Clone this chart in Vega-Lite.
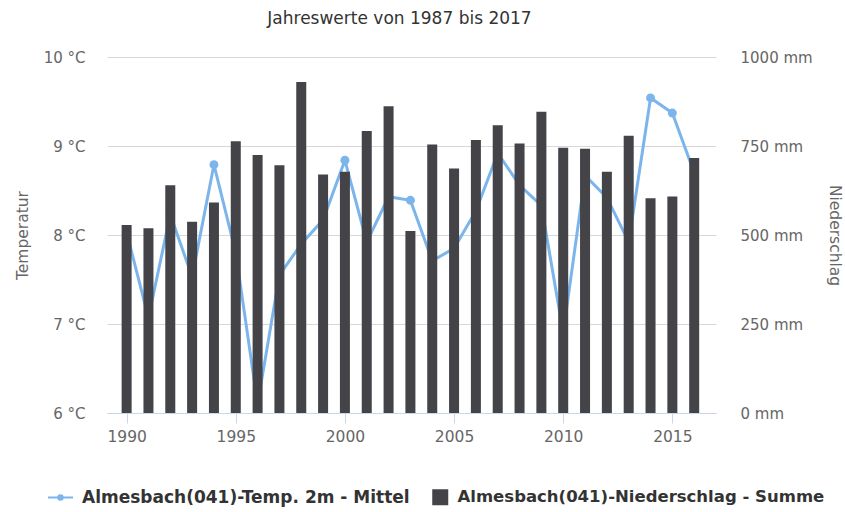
{
  "$schema": "https://vega.github.io/schema/vega-lite/v6.json",
  "width": 609,
  "height": 356,
  "autosize": "none",
  "padding": {"left": 107, "top": 57, "right": 129, "bottom": 99},
  "background": "white",
  "config": {
    "font": "DejaVu Sans",
    "view": {"stroke": null},
    "legend": {"padding": 0}
  },
  "title": {
    "text": "Jahreswerte von 1987 bis 2017",
    "fontSize": 17,
    "fontWeight": "normal",
    "color": "#333333",
    "anchor": "middle",
    "dx": -12,
    "offset": 22,
    "font": "DejaVu Sans"
  },
  "data": {
    "values": [
      {"Jahr": 1990, "Temperatur": 8.03, "Niederschlag": 528},
      {"Jahr": 1991, "Temperatur": 7.07, "Niederschlag": 519},
      {"Jahr": 1992, "Temperatur": 8.23, "Niederschlag": 640},
      {"Jahr": 1993, "Temperatur": 7.53, "Niederschlag": 537},
      {"Jahr": 1994, "Temperatur": 8.79, "Niederschlag": 591},
      {"Jahr": 1995, "Temperatur": 7.8, "Niederschlag": 763},
      {"Jahr": 1996, "Temperatur": 6.1, "Niederschlag": 725},
      {"Jahr": 1997, "Temperatur": 7.55, "Niederschlag": 696},
      {"Jahr": 1998, "Temperatur": 7.9, "Niederschlag": 930},
      {"Jahr": 1999, "Temperatur": 8.17, "Niederschlag": 670},
      {"Jahr": 2000, "Temperatur": 8.84, "Niederschlag": 678},
      {"Jahr": 2001, "Temperatur": 7.92, "Niederschlag": 792},
      {"Jahr": 2002, "Temperatur": 8.43, "Niederschlag": 862},
      {"Jahr": 2003, "Temperatur": 8.39, "Niederschlag": 511},
      {"Jahr": 2004, "Temperatur": 7.71, "Niederschlag": 754},
      {"Jahr": 2005, "Temperatur": 7.85, "Niederschlag": 687},
      {"Jahr": 2006, "Temperatur": 8.27, "Niederschlag": 767},
      {"Jahr": 2007, "Temperatur": 8.92, "Niederschlag": 808},
      {"Jahr": 2008, "Temperatur": 8.56, "Niederschlag": 757},
      {"Jahr": 2009, "Temperatur": 8.33, "Niederschlag": 846},
      {"Jahr": 2010, "Temperatur": 6.9, "Niederschlag": 745},
      {"Jahr": 2011, "Temperatur": 8.67, "Niederschlag": 742},
      {"Jahr": 2012, "Temperatur": 8.42, "Niederschlag": 678},
      {"Jahr": 2013, "Temperatur": 7.92, "Niederschlag": 779},
      {"Jahr": 2014, "Temperatur": 9.54, "Niederschlag": 603},
      {"Jahr": 2015, "Temperatur": 9.37, "Niederschlag": 608},
      {"Jahr": 2016, "Temperatur": 8.7, "Niederschlag": 716}
    ]
  },
  "encoding": {
    "x": {
      "field": "Jahr",
      "type": "quantitative",
      "scale": {"domain": [1989.33, 2016.77], "nice": false, "zero": false},
      "axis": {
        "title": null,
        "values": [1990, 1995, 2000, 2005, 2010, 2015],
        "format": "d",
        "grid": false,
        "domainColor": "#ccd6eb",
        "tickColor": "#ccd6eb",
        "tickSize": 10,
        "labelPadding": 6,
        "labelFontSize": 15.5,
        "labelColor": "#666666",
        "labelFont": "DejaVu Sans"
      }
    }
  },
  "layer": [
    {
      "mark": {
        "type": "line",
        "strokeWidth": 3,
        "point": {"filled": true, "size": 80}
      },
      "encoding": {
        "y": {
          "field": "Temperatur",
          "type": "quantitative",
          "scale": {"domain": [6, 10], "nice": false, "zero": false},
          "axis": {
            "orient": "left",
            "title": "Temperatur",
            "values": [6, 7, 8, 9, 10],
            "labelExpr": "datum.value + ' °C'",
            "grid": true,
            "gridColor": "#d8d8d8",
            "domain": false,
            "ticks": false,
            "tickSize": 0,
            "labelPadding": 22,
            "labelFontSize": 15,
            "labelColor": "#666666",
            "titleFontSize": 15.5,
            "titleFontWeight": "normal",
            "titleColor": "#666666",
            "titlePadding": 13
          }
        },
        "color": {
          "datum": "Almesbach(041)-Temp. 2m - Mittel",
          "scale": {"range": ["#7cb5ec"]},
          "legend": {
            "title": null,
            "orient": "none",
            "legendX": -60,
            "legendY": 427,
            "symbolType": "M-1,0L1,0M0.18,0A0.18,0.18,0,1,1,-0.18,0A0.18,0.18,0,1,1,0.18,0Z",
            "symbolSize": 625,
            "symbolFillColor": "#7cb5ec",
            "symbolStrokeColor": "#7cb5ec",
            "symbolStrokeWidth": 2,
            "labelFontSize": 17,
            "labelFontWeight": "bold",
            "labelColor": "#333333",
            "labelOffset": 8,
            "labelLimit": 0
          }
        }
      }
    },
    {
      "mark": {"type": "bar", "size": 10},
      "encoding": {
        "y": {
          "field": "Niederschlag",
          "type": "quantitative",
          "scale": {"domain": [0, 1000], "nice": false},
          "axis": {
            "orient": "right",
            "title": "Niederschlag",
            "values": [0, 250, 500, 750, 1000],
            "labelExpr": "datum.value + ' mm'",
            "grid": false,
            "domain": false,
            "ticks": false,
            "tickSize": 0,
            "labelPadding": 24,
            "labelFontSize": 15,
            "labelColor": "#666666",
            "titleFontSize": 15.5,
            "titleFontWeight": "normal",
            "titleColor": "#666666",
            "titlePadding": 14
          }
        },
        "color": {
          "datum": "Almesbach(041)-Niederschlag - Summe",
          "scale": {"range": ["#434348"]},
          "legend": {
            "title": null,
            "orient": "none",
            "legendX": 325,
            "legendY": 432,
            "symbolType": "square",
            "symbolSize": 256,
            "symbolStrokeWidth": 0,
            "labelFontSize": 16.5,
            "labelFontWeight": "bold",
            "labelColor": "#333333",
            "labelOffset": 9,
            "labelLimit": 0
          }
        }
      }
    }
  ],
  "resolve": {"scale": {"y": "independent", "color": "independent"}}
}
